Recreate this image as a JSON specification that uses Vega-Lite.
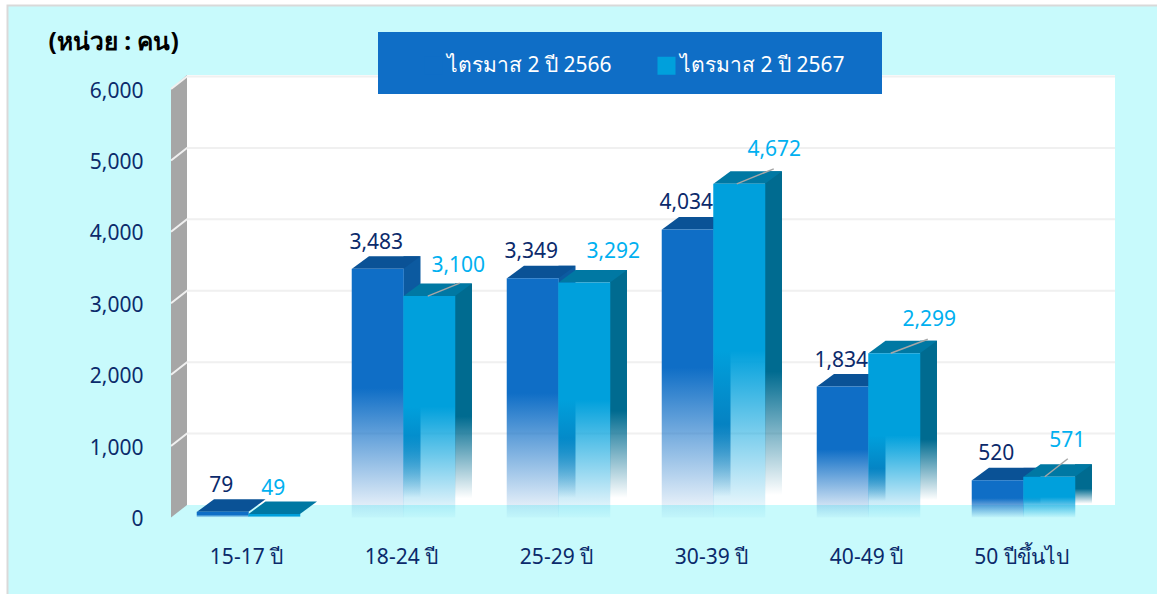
{
"$schema":"https://vega.github.io/schema/vega-lite/v6.json",
"width":930,"height":428.5,
"autosize":"none",
"padding":{"left":171,"top":89,"right":56,"bottom":76.5},
"background":"#ffffff",
"config":{"view":{"stroke":null},"font":"Noto Sans"},
"data":{"values":[
{"group":"15-17 ปี","series":"ไตรมาส 2 ปี 2566","value":79},
{"group":"15-17 ปี","series":"ไตรมาส 2 ปี 2567","value":49},
{"group":"18-24 ปี","series":"ไตรมาส 2 ปี 2566","value":3483},
{"group":"18-24 ปี","series":"ไตรมาส 2 ปี 2567","value":3100},
{"group":"25-29 ปี","series":"ไตรมาส 2 ปี 2566","value":3349},
{"group":"25-29 ปี","series":"ไตรมาส 2 ปี 2567","value":3292},
{"group":"30-39 ปี","series":"ไตรมาส 2 ปี 2566","value":4034},
{"group":"30-39 ปี","series":"ไตรมาส 2 ปี 2567","value":4672},
{"group":"40-49 ปี","series":"ไตรมาส 2 ปี 2566","value":1834},
{"group":"40-49 ปี","series":"ไตรมาส 2 ปี 2567","value":2299},
{"group":"50 ปีขึ้นไป","series":"ไตรมาส 2 ปี 2566","value":520},
{"group":"50 ปีขึ้นไป","series":"ไตรมาส 2 ปี 2567","value":571}
]},
"encoding":{
"x":{"field":"group","type":"nominal","sort":null,"title":null,
 "scale":{"domain":["15-17 ปี","18-24 ปี","25-29 ปี","30-39 ปี","40-49 ปี","50 ปีขึ้นไป"],"paddingInner":0.335,"paddingOuter":0.1675},
 "axis":{"domain":false,"ticks":false,"labelAngle":0,"labelPadding":29,"labelFontSize":21,"labelColor":"#0b2a6b","labelFont":"Noto Sans","labelOffset":-2,"zindex":1}},
"y":{"field":"value","type":"quantitative",
 "scale":{"domain":[0,6000],"nice":false},
 "axis":{"title":"(หน่วย : คน)","titleAngle":0,"titleX":-123,"titleY":-47,"titleAlign":"left","titleBaseline":"middle","titleFontSize":24.5,"titleFontWeight":"bold","titleColor":"#000000","titleFont":"Noto Sans",
  "values":[0,1000,2000,3000,4000,5000,6000],"format":",.0f","domain":false,"ticks":false,"grid":false,"labelPadding":28,"labelOffset":2,"labelFontSize":21,"labelColor":"#0b2a6b","labelFont":"Noto Sans","zindex":1}},
"xOffset":{"field":"series","type":"nominal","scale":{"paddingInner":0,"paddingOuter":0}}
},
"layer":[
{"data":{"values":[{"group":"15-17 ปี","value":0}]},"mark":{"type":"point","filled":true,"opacity":1,"size":4,"fill":"#c8fafc","stroke":"#d9d9d9","strokeWidth":2,"shape":"M-241,-512L920,-512L920,90L-241,90Z"},
 "encoding":{"xOffset":null}},
{"data":{"values":[{"group":"15-17 ปี","value":0}]},"mark":{"type":"point","filled":true,"opacity":1,"size":4,"fill":"#ffffff","shape":"M-61.5,-442.5L866.5,-442.5L866.5,-12.5L-61.5,-12.5Z"},
 "encoding":{"xOffset":null}},
{"data":{"values":[{"group":"15-17 ปี","value":0}]},"mark":{"type":"point","filled":true,"opacity":1,"size":4,"fill":"#a6a6a6","shape":"M-77.5,-428.5L-61.5,-442.5L-61.5,-12.5L-77.5,0Z"},
 "encoding":{"xOffset":null}},
{"data":{"values":[{"group":"15-17 ปี","value":1000},{"group":"15-17 ปี","value":2000},{"group":"15-17 ปี","value":3000},{"group":"15-17 ปี","value":4000},{"group":"15-17 ปี","value":5000},{"group":"15-17 ปี","value":6000}]},"mark":{"type":"point","filled":false,"opacity":1,"size":4,"stroke":"#f0f0f0","strokeWidth":2,"shape":"M-77.5,0L-61.5,-12.5L866.5,-12.5"},
 "encoding":{"xOffset":null}},
{"data":{"values":[{"group":"15-17 ปี","value":0}]},"mark":{"type":"point","filled":true,"opacity":1,"size":4,"fill":"#0f6ec6","shape":"M129.5,-485.5L633.5,-485.5L633.5,-423.5L129.5,-423.5Z"},
 "encoding":{"xOffset":null}},

{"transform":[{"filter":"datum.series === 'ไตรมาส 2 ปี 2566' && datum.value > 100"}],
 "mark":{"type":"bar","width":17,"xOffset":8.5,"yOffset":-12.5,"y2Offset":-12.5,
 "fill":{"gradient":"linear","x1":0,"y1":0,"x2":0,"y2":1,"stops":[{"offset":0,"color":"#0c5aa0"},{"offset":0.72,"color":"#0c5aa0"},{"offset":0.97,"color":"rgba(12,90,160,0)"},{"offset":1,"color":"rgba(12,90,160,0)"}]}},
 "encoding":{"xOffset":null}},
{"transform":[{"filter":"datum.series === 'ไตรมาส 2 ปี 2566'"}],
 "mark":{"type":"point","filled":true,"opacity":1,"size":4,"fill":"#0a5296","shape":"M-25.75,0L25.75,0L42.75,-12.5L-8.75,-12.5Z"}},
{"transform":[{"filter":"datum.series === 'ไตรมาส 2 ปี 2566'"}],
 "mark":{"type":"bar","width":52,
 "fill":{"gradient":"linear","x1":0,"y1":0,"x2":0,"y2":1,"stops":[{"offset":0,"color":"#0f6ec6"},{"offset":0.48,"color":"#0f6ec6"},{"offset":1,"color":"rgba(15,110,198,0.03)"}]}}},

{"transform":[{"filter":"datum.series === 'ไตรมาส 2 ปี 2567' && datum.value > 100"}],
 "mark":{"type":"bar","width":17,"xOffset":60,"yOffset":-12.5,"y2Offset":-12.5,
 "fill":{"gradient":"linear","x1":0,"y1":0,"x2":0,"y2":1,"stops":[{"offset":0,"color":"#006b90"},{"offset":0.6,"color":"#006b90"},{"offset":0.97,"color":"rgba(0,107,144,0)"},{"offset":1,"color":"rgba(0,107,144,0)"}]}},
 "encoding":{"xOffset":null}},
{"transform":[{"filter":"datum.series === 'ไตรมาส 2 ปี 2567'"}],
 "mark":{"type":"point","filled":true,"opacity":1,"size":4,"fill":"#0078a3","shape":"M-25.75,0L25.75,0L42.75,-12.5L-8.75,-12.5Z"}},
{"transform":[{"filter":"datum.series === 'ไตรมาส 2 ปี 2567'"}],
 "mark":{"type":"bar","width":52,
 "fill":{"gradient":"linear","x1":0,"y1":0,"x2":0,"y2":1,"stops":[{"offset":0,"color":"#00a0dc"},{"offset":0.5,"color":"#00a0dc"},{"offset":1,"color":"rgba(0,160,220,0.03)"}]}}},

{"transform":[{"filter":"datum.value === 3100"}],"mark":{"type":"point","filled":false,"opacity":1,"size":4,"stroke":"#a6a6a6","strokeWidth":1.5,"shape":"M-1.5,0L30.5,-13"}},
{"transform":[{"filter":"datum.value === 4672"}],"mark":{"type":"point","filled":false,"opacity":1,"size":4,"stroke":"#a6a6a6","strokeWidth":1.5,"shape":"M-2.5,0L34.5,-15"}},
{"transform":[{"filter":"datum.value === 2299"}],"mark":{"type":"point","filled":false,"opacity":1,"size":4,"stroke":"#a6a6a6","strokeWidth":1.5,"shape":"M-3.5,0L33.5,-14"}},
{"transform":[{"filter":"datum.value === 571"}],"mark":{"type":"point","filled":false,"opacity":1,"size":4,"stroke":"#a6a6a6","strokeWidth":1.5,"shape":"M-4.5,0L18.5,-18"}},

{"transform":[{"filter":"datum.series === 'ไตรมาส 2 ปี 2566'"}],
 "mark":{"type":"text","dx":-1.5,"dy":-26,"fontSize":21,"color":"#0b2a6b","baseline":"middle","font":"Noto Sans"},
 "encoding":{"text":{"field":"value","type":"quantitative","format":","}}},
{"transform":[{"filter":"datum.value === 3100 || datum.value === 3292"}],
 "mark":{"type":"text","dx":29,"dy":-30,"fontSize":21,"color":"#00b0f0","baseline":"middle","font":"Noto Sans"},
 "encoding":{"text":{"field":"value","type":"quantitative","format":","}}},
{"transform":[{"filter":"datum.value === 4672 || datum.value === 2299"}],
 "mark":{"type":"text","dx":35,"dy":-33.5,"fontSize":21,"color":"#00b0f0","baseline":"middle","font":"Noto Sans"},
 "encoding":{"text":{"field":"value","type":"quantitative","format":","}}},
{"transform":[{"filter":"datum.value === 571"}],
 "mark":{"type":"text","dx":18,"dy":-35.5,"fontSize":21,"color":"#00b0f0","baseline":"middle","font":"Noto Sans"},
 "encoding":{"text":{"field":"value","type":"quantitative","format":","}}},
{"transform":[{"filter":"datum.value === 49"}],
 "mark":{"type":"text","dx":-1,"dy":-25,"fontSize":21,"color":"#00b0f0","baseline":"middle","font":"Noto Sans"},
 "encoding":{"text":{"field":"value","type":"quantitative","format":","}}},

{"mark":{"type":"bar","width":51.5,"fillOpacity":0},
 "encoding":{"fill":{"field":"series","type":"nominal",
  "scale":{"domain":["ไตรมาส 2 ปี 2566","ไตรมาส 2 ปี 2567"],"range":["#0f6ec6","#00a0dc"]},
  "legend":{"title":null,"orient":"none","legendX":252,"legendY":-34,"direction":"horizontal","columns":2,"symbolType":"square","symbolSize":324,"symbolOpacity":1,"symbolStrokeWidth":0,"labelColor":"#ffffff","labelFontSize":21,"labelFont":"Noto Sans","labelOffset":3,"labelLimit":300,"columnPadding":44,"padding":0}}}}
]
}
